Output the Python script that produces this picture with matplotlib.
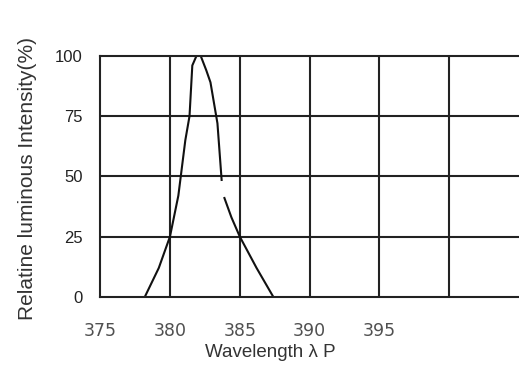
import numpy as np
import matplotlib.pyplot as plt

# spectrum (gap on the falling edge kept as NaN)
wavelength = [378.2, 379.2, 380.0, 380.6, 381.1, 381.4, 381.6, 381.9, 382.2, 382.6, 382.9, 383.4, 383.7,
              383.8,
              383.9, 384.4, 385.0, 386.2, 387.4]
intensity = [0, 12, 25, 42, 65, 75, 96, 100, 100, 94, 89, 72, 48.5,
             np.nan,
             41, 33, 25, 12, 0]

xticks = [375, 380, 385, 390, 395]
xgrid = [380, 385, 390, 395, 400]
yticks = [0, 25, 50, 75, 100]

fig = plt.figure(figsize=(5.19, 3.85), dpi=100)
ax = fig.add_axes([0.193, 0.229, 0.807, 0.626])

for xv in xgrid:
    ax.axvline(xv, color="#222222", lw=1.5)
for yv in yticks[1:-1]:
    ax.axhline(yv, color="#222222", lw=1.5)

ax.plot(wavelength, intensity, color="#111111", lw=1.5)

ax.set_xlim(375, 405)
ax.set_ylim(0, 100)
ax.set_xticks(xticks)
ax.set_yticks(yticks)
ax.tick_params(length=0)
ax.tick_params(axis="x", pad=18, labelsize=12.5, labelcolor="#505050")
ax.tick_params(axis="y", pad=12.5, labelsize=12, labelcolor="#222222")
for lab in ax.get_xticklabels():
    lab.set_family("DejaVu Sans")
for lab in ax.get_yticklabels():
    lab.set_family("Liberation Sans")

for side in ["left", "top", "bottom"]:
    ax.spines[side].set_color("#222222")
    ax.spines[side].set_linewidth(1.5)
ax.spines["right"].set_visible(False)

ax.set_xlabel("Wavelength λ P", fontsize=13.5, family="Liberation Sans", color="#333333")
ax.xaxis.set_label_coords(0.406, -0.195)
ax.set_ylabel("Relatine luminous Intensity(%)", fontsize=15, family="Liberation Sans", color="#333333")
ax.yaxis.set_label_coords(-0.152, 0.49)

fig.savefig("out.png", dpi=100)
